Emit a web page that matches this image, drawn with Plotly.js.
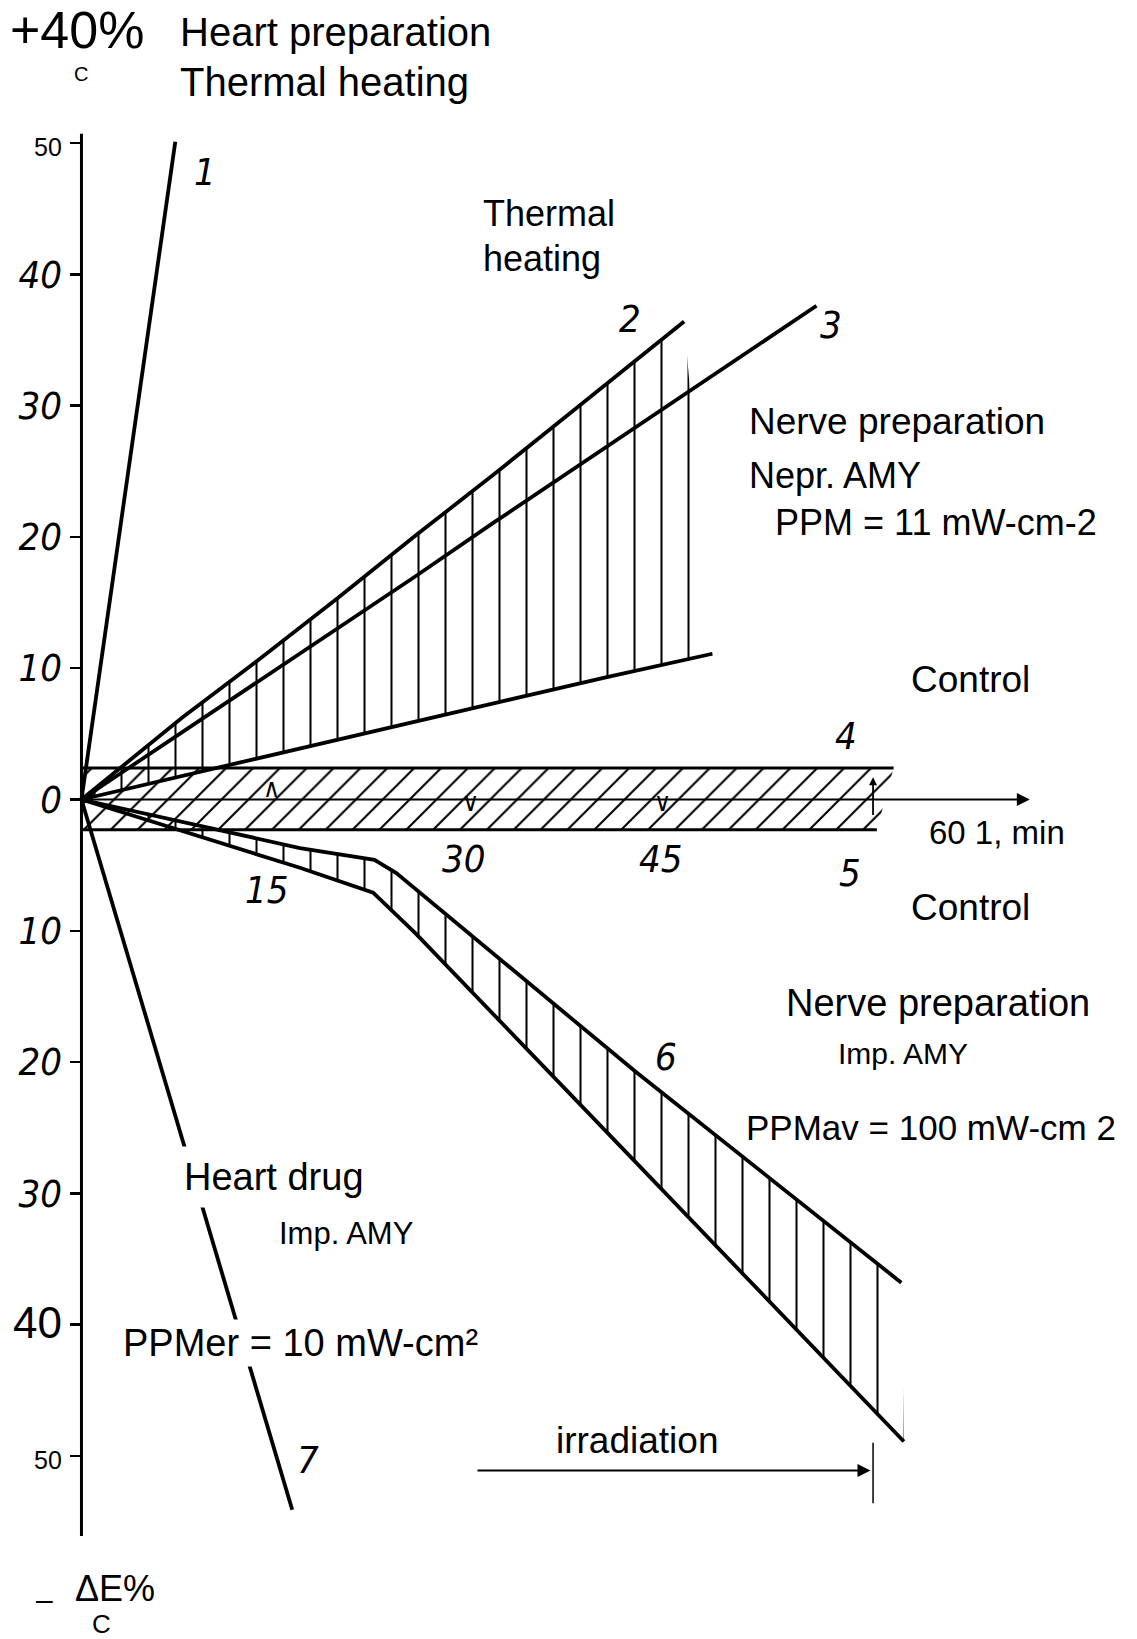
<!DOCTYPE html>
<html><head><meta charset="utf-8">
<script src="https://cdn.plot.ly/plotly-3.0.1.min.js"></script>
<style>html,body{margin:0;padding:0;background:#fff}</style>
</head><body>
<div id="chart" style="width:1137px;height:1639px"></div>
<script>
// ---- Data (x: time, min; y: ΔE/C, %) ----
const line1X = [0, 7.3];
const line1Y = [0, 50.1];

const line2X = [0, 7.8, 13.2, 19.9, 26.0, 32.4, 38.5, 46.9];
const line2Y = [0, 6.2, 10.2, 15.3, 20.1, 25.0, 29.8, 36.4];

const line3X = [0, 13.2, 19.6, 26.0, 32.1, 38.5, 46.9, 57.2];
const line3Y = [0, 8.6, 12.8, 17.0, 21.1, 25.3, 30.8, 37.6];

const bandLowX = [0, 17.0, 26.0, 32.4, 40.8, 49.1];
const bandLowY = [0, 3.9, 6.0, 7.4, 9.3, 11.1];

const line4X = [0, 63.2];
const line4Y = [2.4, 2.4];
const line5X = [0, 61.9];
const line5Y = [-2.3, -2.3];

const line6UpX = [0, 17.0, 22.8, 24.5, 43.2, 63.8];
const line6UpY = [0, -3.7, -4.6, -5.6, -20.8, -36.8];
const line6LoX = [0, 17.0, 22.7, 26.0, 43.2, 64.0];
const line6LoY = [0, -5.2, -7.1, -10.2, -27.7, -48.9];

const line7X = [0, 16.4];
const line7Y = [0, -54.1];

const yTickVals = [-50, -40, -30, -20, -10, 0, 10, 20, 30, 40, 50];
const yTickText = ['50', '40', '30', '20', '10', '0', '10', '20', '30', '40', '50'];
const xTickVals = [15, 30, 45];
const xTickText = ['15', '30', '45'];
const curveNames = ['1', '2', '3', '4', '5', '6', '7'];

// ---- Figure geometry ----
const W = 1137, H = 1639;
const X_RANGE = [-6.34, 82.14];
const Y_RANGE = [-63.94, 60.89];
const px = v => v / W;
const py = v => 1 - v / H;

const SANS = 'Liberation Sans, Arial, sans-serif';
const HAND = 'DejaVu Sans Condensed, DejaVu Sans, sans-serif';
const LW = 3.8;

function ln(x, y, extra) {
  return Object.assign({
    type: 'scatter', mode: 'lines', x: x, y: y,
    line: {color: '#000', width: LW}, hoverinfo: 'skip', showlegend: false
  }, extra || {});
}
const vHatch = {shape: '|', size: 27, solidity: 0.075, fgcolor: '#000', bgcolor: 'rgba(0,0,0,0)', fillmode: 'replace'};
const dHatch = {shape: '/', size: 19, solidity: 0.11, fgcolor: '#000', bgcolor: 'rgba(0,0,0,0)', fillmode: 'replace'};

const traces = [
  ln(line1X, line1Y),
  ln(bandLowX, bandLowY),
  ln(line2X, line2Y, {fill: 'tonexty', fillcolor: 'rgba(0,0,0,0)', fillpattern: vHatch}),
  ln(line3X, line3Y),
  ln(line5X, line5Y, {line: {color: '#000', width: 3}}),
  ln(line4X, line4Y, {line: {color: '#000', width: 3}, fill: 'tonexty', fillcolor: 'rgba(0,0,0,0)', fillpattern: dHatch}),
  ln(line6UpX, line6UpY),
  ln(line6LoX, line6LoY, {fill: 'tonexty', fillcolor: 'rgba(0,0,0,0)', fillpattern: vHatch}),
  ln(line7X, line7Y)
];

function txt(text, xL, yC, size, extra) {
  return Object.assign({
    xref: 'paper', yref: 'paper', x: px(xL), y: py(yC),
    xanchor: 'left', yanchor: 'middle', showarrow: false, text: text,
    font: {family: SANS, size: size, color: '#000'}
  }, extra || {});
}
function hand(text, x, y, size) {
  return {xref: 'x', yref: 'y', x: x, y: y, showarrow: false, text: text,
    xanchor: 'center', yanchor: 'middle',
    font: {family: HAND, size: size || 38, color: '#000', style: 'italic'}};
}

const annotations = [
  txt('+40%', 8, 30, 52),
  txt('C', 81, 74, 20, {xanchor: 'center'}),
  txt('Heart preparation', 178, 32, 40),
  txt('Thermal heating', 178, 82, 40),
  txt('Thermal', 481, 214, 36),
  txt('heating', 481, 258, 36),
  txt('Nerve preparation', 747, 421, 37),
  txt('Nepr. AMY', 747, 475, 36),
  txt('PPM = 11 mW-cm-2', 773, 522, 36),
  txt('Control', 909, 679, 37),
  txt('60 1, min', 927, 833, 33),
  txt('Control', 909, 907, 37),
  txt('Nerve preparation', 784, 1003, 38),
  txt('Imp. AMY', 836, 1053, 30),
  txt('PPMav = 100 mW-cm 2', 744, 1127, 35),
  txt('Heart drug', 174, 1177, 38, {bgcolor: '#fff', borderpad: 9}),
  txt('Imp. AMY', 277, 1233, 31),
  txt('PPMer = 10 mW-cm²', 120, 1343, 38, {bgcolor: '#fff', borderpad: 2}),
  txt('irradiation', 554, 1440, 37),
  txt('–', 44, 1599, 30, {xanchor: 'center'}),
  txt('ΔE%', 73, 1588, 36),
  txt('C', 101, 1624, 26, {xanchor: 'center'}),
  // curve numbers
  hand(curveNames[0], 9.6, 47.8),
  hand(curveNames[1], 42.7, 36.6),
  hand(curveNames[2], 58.3, 36.1),
  hand(curveNames[3], 59.5, 4.8),
  hand(curveNames[4], 59.8, -5.6),
  hand(curveNames[5], 45.5, -19.6),
  hand(curveNames[6], 17.6, -50.3),
  // time tick labels
  hand(xTickText[0], xTickVals[0] - 0.6, -6.9),
  hand(xTickText[1], xTickVals[1] - 0.2, -4.5),
  hand(xTickText[2], xTickVals[2] + 0.1, -4.5),
  // small hand marks on the time axis
  hand('∧', 14.8, 0.9, 26),
  hand('∨', 30.3, -0.2, 26),
  hand('∨', 45.2, -0.2, 26),
  {xref: 'x', yref: 'y', axref: 'x', ayref: 'y', x: 61.6, y: 1.7, ax: 61.6, ay: -1.3,
   text: '', showarrow: true, arrowhead: 2, arrowsize: 0.9, arrowwidth: 1.8, arrowcolor: '#000'},
  // time axis with arrow
  {xref: 'x', yref: 'y', axref: 'x', ayref: 'y', x: 73.8, y: 0, ax: 0, ay: 0,
   text: '', showarrow: true, arrowhead: 2, arrowsize: 1.3, arrowwidth: 2, arrowcolor: '#000'},
  // irradiation arrow
  {xref: 'x', yref: 'y', axref: 'x', ayref: 'y', x: 61.4, y: -51.1, ax: 30.7, ay: -51.1,
   text: '', showarrow: true, arrowhead: 2, arrowsize: 1.3, arrowwidth: 2, arrowcolor: '#000'}
];

const tickText = yTickText.map((t, i) => {
  const v = yTickVals[i];
  if (v === 50 || v === -50) return '<span style="font-family:\'Liberation Sans\';font-style:normal;font-size:25px">' + t + '</span>';
  if (v === -40) return '<span style="font-family:\'Liberation Sans\';font-style:normal;font-size:44px">' + t + '</span>';
  return t;
});

const layout = {
  width: W, height: H,
  margin: {l: 0, r: 0, t: 0, b: 0, pad: 0},
  paper_bgcolor: '#fff', plot_bgcolor: '#fff',
  showlegend: false,
  xaxis: {range: X_RANGE, visible: false, fixedrange: true},
  yaxis: {
    range: Y_RANGE, anchor: 'free', position: px(81.5),
    showgrid: false, zeroline: false, showline: false,
    ticks: 'outside', ticklen: 12, tickwidth: 2.5, tickcolor: '#000',
    tickmode: 'array', tickvals: yTickVals, ticktext: tickText,
    tickfont: {family: HAND, size: 38, color: '#000', style: 'italic'},
    fixedrange: true
  },
  shapes: [
    {type: 'line', xref: 'x', yref: 'y', x0: 0, x1: 0, y0: -56.1, y1: 50.7,
     line: {color: '#000', width: 3}},
    {type: 'line', xref: 'x', yref: 'y', x0: 61.6, x1: 61.6, y0: -49.0, y1: -53.6,
     line: {color: '#000', width: 1.5}}
  ],
  annotations: annotations
};

Plotly.newPlot('chart', traces, layout, {staticPlot: true, displayModeBar: false});
</script>
</body></html>
